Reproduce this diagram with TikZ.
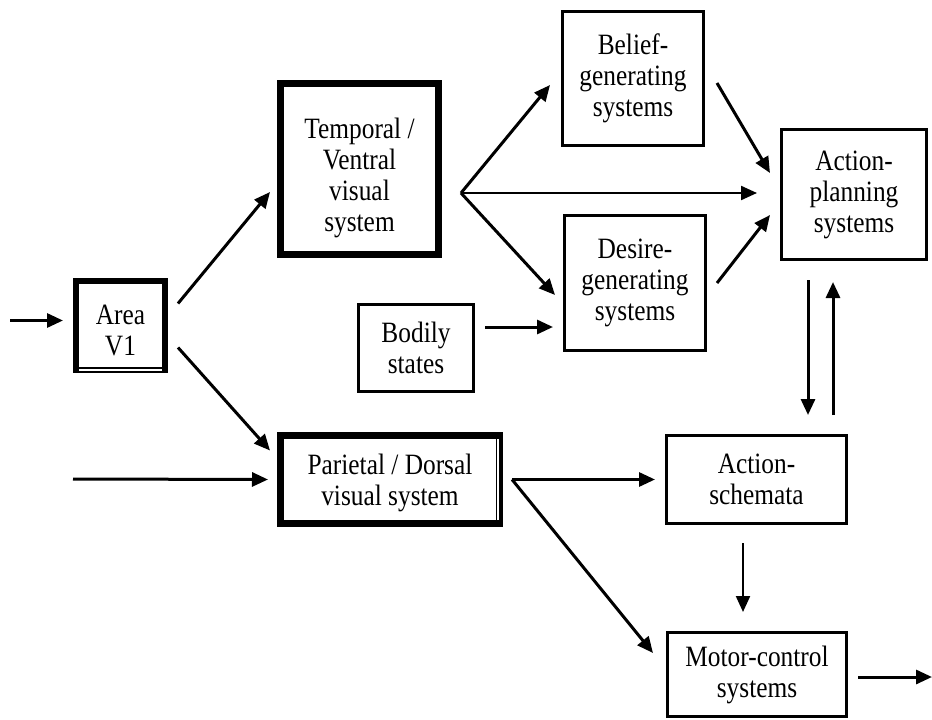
\documentclass[tikz,border=0pt]{standalone}
\usepackage{fontspec}
\setmainfont{Liberation Serif}[FakeStretch=0.86]
\usetikzlibrary{arrows.meta,calc}

\tikzset{
  txt/.style={align=center, inner sep=0pt, font=\fontsize{29.5}{31}\selectfont},
  box/.style={draw, line width=3pt, txt},
  heavybox/.style={box, line width=7pt},
  arr/.style={line width=3pt, -{Triangle[length=16pt,width=14pt]}},
  thinarr/.style={arr, line width=2.2pt},
  gap/.style={draw=white, line width=2pt}
}

\begin{document}
\begin{tikzpicture}[x=1pt, y=-1pt]
\useasboundingbox (0,0) rectangle (932,720);

% visual areas: heavy frames, text set a little below centre
\node[heavybox, line width=6pt, minimum width=89, minimum height=89]
  (v1) at (120.5,325.5) {};
\node[txt] (v1t) at ($(v1.center)+(0,5)$) {Area\\V1};
\node[heavybox, minimum width=158, minimum height=171]
  (temp) at (359.5,169) {};
\node[txt] (tempt) at ($(temp.center)+(0,9)$) {Temporal /\\Ventral\\visual\\system};
\node[heavybox, minimum width=219, minimum height=88]
  (par) at (390,479.5) {};
\node[txt] (part) at ($(par.center)+(0,3)$) {Parietal / Dorsal\\visual system};

% remaining systems
\node[box, minimum width=141, minimum height=134]
  (bel) at (633,78.5) {Belief-\\generating\\systems};
\node[box, minimum width=141, minimum height=135]
  (des) at (635,283) {Desire-\\generating\\systems};
\node[box, minimum width=145, minimum height=130]
  (ap) at (854,194.5) {Action-\\planning\\systems};
\node[box, minimum width=115, minimum height=87]
  (bod) at (416,348) {Bodily\\states};
\node[box, minimum width=180, minimum height=88]
  (sch) at (756.5,479.5) {Action-\\schemata};
\node[box, minimum width=179, minimum height=84]
  (mot) at (757,674.5) {Motor-control\\systems};

% double-line edges of the visual boxes
\draw[gap] ($(v1.south west)+(6,-3.5)$) -- ($(v1.south east)+(-6,-3.5)$);
\draw[gap] ($(par.north east)+(-5,7)$) -- ($(par.south east)+(-5,-7)$);

% free ends of the input and output lines
\coordinate (inA) at (10,320.5);
\coordinate (inB) at (73,479);
\coordinate (out) at (932,677);
\coordinate (fanT) at ($(temp.east)+(19,24)$);
\coordinate (fanP) at ($(par.east)+(9,0)$);

% connectors
\draw[arr] (inA) -- ($(v1.west)+(-10,-5)$);
\draw[arr] ($(v1.east)+(10,-22)$) -- ($(temp.west)+(-7,23)$);
\draw[arr] ($(v1.east)+(10,22)$) -- ($(par.west)+(-7,-29)$);
\draw[arr] (inB) -- ($(par.west)+(-9,0)$);

\draw[arr] (fanT) -- ($(bel.west)+(-11,6.5)$);
\draw[thinarr] (fanT) -- ($(ap.west)+(-23,-1.5)$);
\draw[arr] (fanT) -- ($(des.west)+(-8,12)$);
\draw[arr] ($(bod.east)+(10,-21)$) -- ($(des.west)+(-10,44)$);

\draw[arr] ($(bel.east)+(12,4.5)$) -- ($(ap.west)+(-10,-21.5)$);
\draw[arr] ($(des.east)+(10,0)$) -- ($(ap.west)+(-10,20.5)$);

\draw[arr] ($(ap.south)+(-46,19)$) -- ($(sch.north)+(51.5,-19)$);
\draw[arr] ($(sch.north)+(76.5,-19)$) -- ($(ap.south)+(-21,21)$);

\draw[arr] (fanP) -- ($(sch.west)+(-10,0)$);
\draw[arr] (fanP) -- ($(mot.west)+(-13,-21.5)$);
\draw[thinarr] ($(sch.south)+(-13.5,18)$) -- ($(mot.north)+(-14,-19)$);
\draw[arr] ($(mot.east)+(10,2.5)$) -- (out);
\end{tikzpicture}
\end{document}
